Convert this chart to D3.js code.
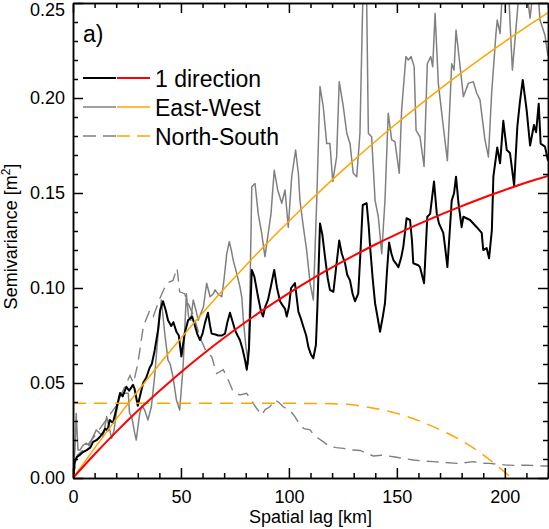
<!DOCTYPE html>
<html><head><meta charset="utf-8">
<script src="https://cdn.jsdelivr.net/npm/d3@7"></script>
<style>
html,body{margin:0;padding:0;background:#fff;}
text{font-family:"Liberation Sans",Arial,Helvetica,sans-serif;}
</style></head>
<body><svg id="c" width="549" height="529"></svg>
<script>
// ---- data (lag km, semivariance m^2) ----
const xTicks = [0, 50, 100, 150, 200];
const yTicks = [0, 0.05, 0.10, 0.15, 0.20, 0.25];
const yTickLabels = ["0.00", "0.05", "0.10", "0.15", "0.20", "0.25"];
const legendLabels = ["1 direction", "East-West", "North-South"];

const oneDirEmp = [[0,0],[0.8,0.008],[1.7,0.011],[3,0.012],[4.5,0.0135],[6.3,0.0147],[8,0.016],[9.3,0.019],[11,0.02],[12.5,0.0217],[14,0.024],[15,0.026],[16,0.025],[17,0.0305],[18.5,0.029],[20,0.036],[21.8,0.0447],[23,0.043],[24.7,0.048],[26,0.046],[27.8,0.049],[28.5,0.047],[30,0.038],[31,0.043],[32.5,0.05],[34,0.053],[35.5,0.058],[36.5,0.06],[37.8,0.067],[39.4,0.078],[40.3,0.088],[41.7,0.093],[43,0.088],[44,0.083],[45.5,0.08],[46.5,0.082],[47.9,0.077],[49,0.075],[50.2,0.064],[51.7,0.076],[53.3,0.083],[55.2,0.085],[56.5,0.08],[57.5,0.076],[58.8,0.0726],[60,0.076],[61.1,0.0815],[62.5,0.087],[63.5,0.08],[64.2,0.076],[66,0.0755],[67.2,0.075],[69,0.075],[70.4,0.076],[71.5,0.082],[72.7,0.087],[74,0.082],[75,0.078],[76.2,0.075],[77.3,0.0726],[78.5,0.068],[79.7,0.062],[80.5,0.057],[81.5,0.068],[82.8,0.1095],[84,0.106],[85.7,0.0954],[87,0.088],[88,0.085],[89,0.09],[90.3,0.0937],[91.5,0.1],[93.2,0.1095],[94.5,0.1],[95.9,0.093],[97,0.091],[98.2,0.089],[99,0.085],[100,0.09],[101,0.1],[102.8,0.1026],[104.4,0.0875],[105.5,0.084],[106.7,0.0796],[108,0.075],[109,0.069],[110.2,0.065],[111.3,0.063],[112.5,0.07],[113.2,0.09],[114.4,0.134],[115.5,0.128],[116.7,0.1165],[118,0.105],[119,0.099],[120.6,0.098],[122,0.112],[123.3,0.125],[124.5,0.118],[126,0.113],[127,0.107],[128.3,0.104],[129.5,0.097],[130.6,0.093],[132.1,0.097],[133.2,0.12],[134.2,0.1437],[136,0.1446],[137,0.132],[137.6,0.1218],[138.8,0.105],[139.9,0.092],[141,0.085],[142.2,0.077],[143.5,0.085],[144.5,0.092],[145.5,0.11],[146.4,0.124],[147.5,0.118],[148.4,0.1147],[149.5,0.113],[150.7,0.111],[152,0.116],[153,0.1218],[154.5,0.1367],[156.1,0.1358],[157,0.125],[157.6,0.113],[159.9,0.112],[160.7,0.111],[162.6,0.1025],[164.1,0.1375],[165.4,0.139],[167.2,0.156],[168.5,0.139],[169.5,0.134],[171.5,0.129],[172.5,0.12],[173.4,0.111],[174.5,0.13],[175.4,0.146],[176.5,0.15],[177.4,0.1586],[178.5,0.145],[180,0.132],[180.8,0.1375],[183.9,0.1358],[187,0.132],[189.3,0.129],[190,0.12],[191.6,0.121],[192.7,0.1156],[194,0.1305],[194.7,0.1586],[196.5,0.174],[197.8,0.1656],[199.3,0.188],[200.9,0.1726],[202.4,0.171],[204.3,0.154],[205.8,0.185],[207,0.198],[208.3,0.2095],[210.1,0.1937],[211.7,0.175],[213.5,0.1858],[214.5,0.182],[215.7,0.197],[216.6,0.176],[218.6,0.1744],[220,0.167]];

const oneDirModel = [[0,0],[10,0.0125],[20,0.0243],[30,0.0354],[40,0.0458],[50,0.0557],[60,0.065],[70,0.0738],[80,0.0821],[90,0.0899],[100,0.0973],[110,0.1043],[120,0.1108],[130,0.117],[140,0.1229],[150,0.1284],[160,0.1336],[170,0.1385],[180,0.1431],[190,0.1475],[200,0.1516],[210,0.1555],[220,0.159]];

const ewEmp = [[0,0],[0.5,0.01],[0.9,0.0147],[1.5,0.034],[2.3,0.0147],[3.2,0.0147],[4.5,0.017],[6.2,0.0183],[7.5,0.017],[9,0.021],[10.8,0.0253],[12,0.024],[13.9,0.0217],[15.6,0.0323],[16.5,0.028],[17.9,0.0209],[19,0.025],[20.2,0.035],[21.8,0.0446],[23.2,0.0446],[25.6,0.0446],[26.2,0.034],[27.2,0.0323],[28.5,0.024],[29.3,0.02],[30.9,0.034],[32,0.038],[33.2,0.0358],[34.7,0.0305],[36.3,0.0375],[37.8,0.0533],[39.4,0.076],[40.9,0.0937],[42.5,0.076],[44,0.062],[45,0.06],[46.3,0.0533],[47.9,0.041],[49.4,0.0358],[51,0.0586],[52.5,0.097],[53.5,0.085],[54.5,0.083],[55.7,0.0937],[57,0.088],[58,0.083],[59,0.086],[60.4,0.09],[61.9,0.1025],[63.5,0.0954],[65,0.097],[65.8,0.099],[67,0.097],[68.9,0.0954],[70,0.105],[71.2,0.118],[72.4,0.1244],[73.3,0.12],[74.2,0.1147],[75.8,0.1077],[77.3,0.1007],[78.2,0.095],[78.9,0.083],[80,0.07],[81.2,0.06],[82,0.1],[82.8,0.1533],[84.3,0.155],[85.8,0.139],[87.4,0.1288],[88.9,0.1165],[90.2,0.127],[91.7,0.139],[93.2,0.162],[94.8,0.1516],[96.7,0.1446],[98.2,0.1516],[99.7,0.132],[101.3,0.1586],[103.1,0.1726],[104.4,0.16],[105.1,0.1463],[106.7,0.132],[108.2,0.12],[109.8,0.1026],[111.3,0.0937],[112.9,0.1463],[114.4,0.206],[115.9,0.1954],[117.5,0.176],[119,0.176],[120.3,0.156],[122.1,0.169],[123.3,0.2086],[125.2,0.1954],[126.8,0.1814],[128.3,0.176],[129.8,0.1604],[131.4,0.1586],[132.9,0.1814],[134,0.24],[134.6,0.27],[135.8,0.27],[136.8,0.1814],[138.3,0.1796],[139.9,0.1463],[141.4,0.1375],[143,0.118],[144.5,0.1463],[146,0.192],[147.6,0.178],[149.1,0.177],[151.1,0.1604],[152.2,0.1937],[154.2,0.2218],[155.3,0.22],[156.6,0.2218],[158,0.2165],[158.9,0.183],[160.7,0.1796],[162.6,0.164],[164.1,0.218],[165.7,0.2218],[166.6,0.2165],[167.7,0.2446],[169.2,0.2077],[171.5,0.185],[173.4,0.167],[175.4,0.218],[176.5,0.2147],[177.4,0.2358],[179.3,0.2165],[180.8,0.2007],[183.1,0.2077],[185.4,0.2086],[187,0.2025],[188.5,0.199],[190.8,0.178],[192.4,0.169],[193.9,0.2025],[195.9,0.234],[196.5,0.241],[197.8,0.234],[198.8,0.255],[200.5,0.262],[202,0.25],[203.5,0.2147],[205.5,0.241],[207,0.262],[209.5,0.262],[211.7,0.242],[213,0.256],[215,0.262],[216.3,0.241],[218.6,0.233],[220,0.222]];

const ewModel = [[0,0],[10,0.0157],[20,0.031],[30,0.0457],[40,0.0599],[50,0.0736],[60,0.0868],[70,0.0996],[80,0.1118],[90,0.1237],[100,0.1351],[110,0.1462],[120,0.1569],[130,0.1672],[140,0.1771],[150,0.1867],[160,0.1959],[170,0.2048],[180,0.2134],[190,0.2217],[200,0.2297],[210,0.2374],[220,0.2449]];

const nsEmp = [[0,0],[2,0.012],[5,0.015],[10,0.022],[15,0.03],[20,0.038],[24,0.048],[26.4,0.054],[28,0.05],[30,0.06],[32.6,0.08],[35.5,0.088],[37.2,0.085],[40,0.094],[43.4,0.1025],[46.3,0.104],[48.2,0.1104],[49.4,0.098],[51.7,0.097],[53.3,0.092],[56,0.085],[58.8,0.074],[61.9,0.066],[64.2,0.064],[66.5,0.055],[69.6,0.057],[71.9,0.0516],[74.2,0.0454],[77.3,0.0437],[80.4,0.0446],[82,0.042],[85,0.0367],[87.4,0.0332],[89,0.036],[91.2,0.0375],[93.6,0.041],[95.1,0.04],[97.4,0.0375],[100.5,0.0355],[102.8,0.0323],[105.1,0.0279],[107,0.026],[109.8,0.0253],[111.3,0.023],[113.6,0.0209],[116,0.019],[119,0.0165],[122,0.016],[125.2,0.0156],[129.8,0.0147],[133,0.0145],[136,0.013],[139.1,0.0116],[143,0.012],[148.4,0.0112],[152,0.0105],[157.6,0.0095],[162,0.009],[166.9,0.0086],[172,0.0082],[177.7,0.0077],[181,0.008],[185.4,0.0086],[189,0.0078],[193.1,0.0077],[197,0.0072],[200.9,0.0068],[205,0.0066],[210.1,0.0068],[214,0.0065],[217.8,0.0063],[220,0.0063]];

const nsModel = [[0,0.0393],[50,0.0393],[100,0.0393],[120,0.0391],[130,0.0384],[140,0.0366],[150,0.034],[160,0.0302],[170,0.0254],[180,0.0196],[190,0.0122],[196,0.0068],[202,0.0012]];

// ---- layout ----
const svg = d3.select("#c");
const L = 73, R = 548, T = 3, B = 478;
const x = d3.scaleLinear().domain([0, 220]).range([L, R]);
const y = d3.scaleLinear().domain([0, 0.25]).range([B, T]);

svg.append("defs").append("clipPath").attr("id", "clip")
  .append("rect").attr("x", L).attr("y", T).attr("width", R - L).attr("height", B - T);

const GRAY = "#808080", ORANGE = "#FFA500", RED = "#FF0000";
const lineLin = d3.line().x(d => x(d[0])).y(d => y(d[1]));
const lineSmooth = d3.line().x(d => x(d[0])).y(d => y(d[1])).curve(d3.curveMonotoneX);

const g = svg.append("g").attr("clip-path", "url(#clip)");
g.append("path").datum(nsEmp).attr("d", lineLin).attr("fill", "none")
  .attr("stroke", GRAY).attr("stroke-width", 1.4).attr("stroke-dasharray", "12,7");
g.append("path").datum(ewEmp).attr("d", lineLin).attr("fill", "none")
  .attr("stroke", GRAY).attr("stroke-width", 1.5).attr("stroke-linejoin", "round");
g.append("path").datum(oneDirEmp).attr("d", lineLin).attr("fill", "none")
  .attr("stroke", "#000").attr("stroke-width", 2).attr("stroke-linejoin", "round");
g.append("path").datum(nsModel).attr("d", lineSmooth).attr("fill", "none")
  .attr("stroke", ORANGE).attr("stroke-width", 1.5).attr("stroke-dasharray", "13,8");
g.append("path").datum(ewModel).attr("d", lineSmooth).attr("fill", "none")
  .attr("stroke", ORANGE).attr("stroke-width", 1.5);
g.append("path").datum(oneDirModel).attr("d", lineSmooth).attr("fill", "none")
  .attr("stroke", RED).attr("stroke-width", 2);

// ---- axes (inward ticks on all four sides) ----
const minorX = d3.range(0, 221, 10).filter(v => v % 50 !== 0);
const minorY = d3.range(0, 26, 1).map(v => v / 100).filter((v, i) => i % 5 !== 0);
function styleAxis(sel) {
  sel.selectAll("path.domain").attr("stroke", "#000").attr("stroke-width", 1.5);
  sel.selectAll(".tick line").attr("stroke", "#000").attr("stroke-width", 1.5);
  sel.selectAll("text").attr("font-size", 18).attr("fill", "#000")
    .attr("font-family", "'Liberation Sans', Arial, sans-serif");
}
const fmtY = d => yTickLabels[yTicks.findIndex(t => Math.abs(t - d) < 1e-9)];

svg.append("g").attr("transform", `translate(0,${B})`)
  .call(d3.axisBottom(x).tickValues(xTicks).tickSize(-10).tickSizeOuter(0).tickPadding(12).tickFormat(d3.format("d")))
  .call(styleAxis);
svg.append("g").attr("transform", `translate(0,${B})`)
  .call(d3.axisBottom(x).tickValues(minorX).tickSize(-5).tickSizeOuter(0).tickFormat(""))
  .call(styleAxis);
svg.append("g").attr("transform", `translate(0,${T})`)
  .call(d3.axisTop(x).tickValues(xTicks).tickSize(-10).tickSizeOuter(0).tickFormat(""))
  .call(styleAxis);
svg.append("g").attr("transform", `translate(0,${T})`)
  .call(d3.axisTop(x).tickValues(minorX).tickSize(-5).tickSizeOuter(0).tickFormat(""))
  .call(styleAxis);
const yAxisG = svg.append("g").attr("transform", `translate(${L},0)`)
  .call(d3.axisLeft(y).tickValues(yTicks).tickSize(-10).tickSizeOuter(0).tickPadding(8).tickFormat(fmtY))
  .call(styleAxis);
// keep the top label inside the picture, as in the reference
yAxisG.selectAll(".tick text").filter(d => d === 0.25).attr("dy", "0.75em").attr("y", -1.5);
svg.append("g").attr("transform", `translate(${L},0)`)
  .call(d3.axisLeft(y).tickValues(minorY).tickSize(-5).tickSizeOuter(0).tickFormat(""))
  .call(styleAxis);
svg.append("g").attr("transform", `translate(${R},0)`)
  .call(d3.axisRight(y).tickValues(yTicks).tickSize(-10).tickSizeOuter(0).tickFormat(""))
  .call(styleAxis);
svg.append("g").attr("transform", `translate(${R},0)`)
  .call(d3.axisRight(y).tickValues(minorY).tickSize(-5).tickSizeOuter(0).tickFormat(""))
  .call(styleAxis);

// axis titles
svg.append("text").attr("x", (L + R) / 2).attr("y", 523).attr("text-anchor", "middle")
  .attr("font-size", 18).text("Spatial lag [km]");
const yl = svg.append("text").attr("transform", `translate(17,${(T + B) / 2 - 4}) rotate(-90)`)
  .attr("text-anchor", "middle").attr("font-size", 18);
yl.append("tspan").text("Semivariance [m");
yl.append("tspan").attr("font-size", 12).attr("dy", -7).text("2");
yl.append("tspan").attr("dy", 7).text("]");

// panel label
svg.append("text").attr("x", 83).attr("y", 42).attr("font-size", 23).text("a)");

// legend
const legY = [78, 107, 136];
const legLeft = [
  {stroke: "#000", w: 2, dash: null},
  {stroke: GRAY, w: 1.5, dash: null},
  {stroke: GRAY, w: 1.5, dash: "13,7"}
];
const legRight = [
  {stroke: RED, w: 2, dash: null},
  {stroke: ORANGE, w: 1.5, dash: null},
  {stroke: ORANGE, w: 1.5, dash: "13,7"}
];
legendLabels.forEach((lab, i) => {
  svg.append("line").attr("x1", 83).attr("x2", 116).attr("y1", legY[i]).attr("y2", legY[i])
    .attr("stroke", legLeft[i].stroke).attr("stroke-width", legLeft[i].w)
    .attr("stroke-dasharray", legLeft[i].dash);
  svg.append("line").attr("x1", 117).attr("x2", 150).attr("y1", legY[i]).attr("y2", legY[i])
    .attr("stroke", legRight[i].stroke).attr("stroke-width", legRight[i].w)
    .attr("stroke-dasharray", legRight[i].dash);
  svg.append("text").attr("x", 155).attr("y", legY[i] + 9).attr("font-size", 23).text(lab);
});
</script></body></html>
